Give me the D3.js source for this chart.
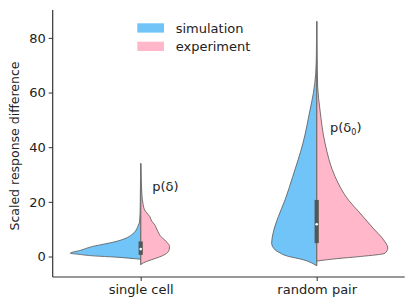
<!DOCTYPE html>
<html>
<head>
<meta charset="utf-8">
<script src="https://cdn.jsdelivr.net/npm/d3@7"></script>
<style>
  body { margin: 0; background: #fff; }
  svg text { font-family: "DejaVu Sans", sans-serif; fill: #222; }
</style>
</head>
<body>
<div id="chart"></div>
<script>
// categories and ticks
var categories = ["single cell", "random pair"];
var yTicks = [0, 20, 40, 60, 80];
var seriesNames = ["simulation", "experiment"];

// half-violin profiles: [value, relative density]
var simSingle = [[-1.0, 0], [-0.6, 0.17], [-0.25, 0.34], [0.25, 0.68], [0.8, 0.88], [1.2, 1.0], [2.3, 0.85],
  [3.7, 0.68], [4.6, 0.51], [5.5, 0.35], [6.7, 0.21], [7.9, 0.13], [9.5, 0.07], [11, 0.04], [13, 0.015],
  [18, 0.007], [25, 0.004], [34, 0]];
var expSingle = [[-3, 0], [-2.3, 0.04], [-1.8, 0.085], [-0.6, 0.22], [0.3, 0.31], [1.2, 0.37], [2.5, 0.405],
  [3.7, 0.41], [5, 0.38], [6.1, 0.34], [7.5, 0.28], [9.1, 0.245], [10.5, 0.22], [11.6, 0.2], [13, 0.155],
  [14.6, 0.13], [16, 0.085], [17, 0.057], [19, 0.035], [20.7, 0.024], [24, 0.014], [28, 0.007], [34, 0]];
var simPair = [[-3.4, 0], [-3, 0.024], [-1.2, 0.19], [0.25, 0.43], [1.3, 0.52], [2.4, 0.59], [4.9, 0.64],
  [8.5, 0.62], [14.6, 0.545], [20.7, 0.45], [29.3, 0.34], [41.5, 0.195], [53.6, 0.095], [59.7, 0.048],
  [67, 0.014], [75, 0.004], [86, 0]];
var expPair = [[-1.7, 0], [-1.6, 0.024], [-0.8, 0.28], [0, 0.62], [1.2, 0.97], [3.1, 1.01], [6.1, 0.95],
  [10.4, 0.8], [15.9, 0.615], [20.7, 0.45], [29.3, 0.26], [41.5, 0.118], [53.6, 0.047], [62, 0.014],
  [75, 0.004], [86, 0]];

// inner box stats: [min, q1, median, q3, max]
var boxSingle = [-3, 0.6, 2.7, 5.5, 34];
var boxPair = [-3.4, 4.9, 11.8, 20.7, 86];

var violins = [
  { cat: 0, sim: simSingle, exp: expSingle, box: boxSingle },
  { cat: 1, sim: simPair, exp: expPair, box: boxPair }
];

var W = 411, H = 302;
var colors = { simulation: "#70c4f8", experiment: "#ffb7c9" };

var svg = d3.select("#chart").append("svg")
  .attr("width", W).attr("height", H);

var x = d3.scaleLinear().domain([-0.5, 1.5]).range([52.7, 404.7]);
var y = d3.scaleLinear().domain([-7.5, 90.2]).range([277, 10]);
// density -> half width in category units
var wScale = d3.scaleLinear().domain([0, 1]).range([0, 0.4]);

function halfArea(center, side) {
  return d3.area()
    .curve(d3.curveMonotoneY)
    .y(function (d) { return y(d[0]); })
    .x0(function () { return x(center); })
    .x1(function (d) { return x(center + side * wScale(d[1])); });
}

violins.forEach(function (v) {
  svg.append("path")
    .datum(v.sim)
    .attr("d", halfArea(v.cat, -1))
    .attr("fill", colors.simulation)
    .attr("stroke", "#555")
    .attr("stroke-width", 0.8);
  svg.append("path")
    .datum(v.exp)
    .attr("d", halfArea(v.cat, 1))
    .attr("fill", colors.experiment)
    .attr("stroke", "#555")
    .attr("stroke-width", 0.8);

  // whisker line
  svg.append("line")
    .attr("x1", x(v.cat)).attr("x2", x(v.cat))
    .attr("y1", y(v.box[0])).attr("y2", y(v.box[4]))
    .attr("stroke", "#777")
    .attr("stroke-width", 1);
  // box
  svg.append("line")
    .attr("x1", x(v.cat)).attr("x2", x(v.cat))
    .attr("y1", y(v.box[1])).attr("y2", y(v.box[3]))
    .attr("stroke", "#555")
    .attr("stroke-width", 4.2);
  // median
  svg.append("circle")
    .attr("cx", x(v.cat)).attr("cy", y(v.box[2]))
    .attr("r", 1.3)
    .attr("fill", "#fff");
});

// axes
var yAxis = svg.append("g")
  .attr("transform", "translate(" + x(-0.5) + ",0)")
  .call(d3.axisLeft(y).tickValues(yTicks).tickSize(4).tickPadding(3));
var xAxis = svg.append("g")
  .attr("transform", "translate(0," + y(-7.5) + ")")
  .call(d3.axisBottom(x).tickValues([0, 1]).tickSize(4).tickPadding(4)
    .tickFormat(function (d) { return categories[d]; }));

[xAxis, yAxis].forEach(function (g) {
  g.select(".domain").attr("stroke", "#333").attr("stroke-width", 1.2);
  g.selectAll(".tick line").attr("stroke", "#333").attr("stroke-width", 1);
  g.selectAll(".tick text").style("font-size", "13px").attr("fill", "#222");
});
yAxis.select(".domain").attr("d", "M0," + y(-7.5) + "V" + y(90.2));
xAxis.select(".domain").attr("d", "M" + x(-0.5) + ",0H" + x(1.5));

// y label
svg.append("text")
  .attr("transform", "translate(19," + 146 + ") rotate(-90)")
  .attr("text-anchor", "middle")
  .style("font-size", "12.5px")
  .text("Scaled response difference");

// legend
var legend = svg.append("g").attr("transform", "translate(137.3,23.3)");
seriesNames.forEach(function (name, i) {
  legend.append("rect")
    .attr("x", 0).attr("y", i * 18.4)
    .attr("width", 26.7).attr("height", 9.3)
    .attr("fill", colors[name]);
  legend.append("text")
    .attr("x", 38.4).attr("y", i * 18.4 + 4.7)
    .attr("dy", "0.35em")
    .style("font-size", "13px")
    .text(name);
});

// annotations
svg.append("text")
  .attr("x", 152.3).attr("y", 190.5)
  .style("font-size", "13px")
  .text("p(δ)");
var t2 = svg.append("text")
  .attr("x", 330).attr("y", 132)
  .style("font-size", "13px");
t2.append("tspan").text("p(δ");
t2.append("tspan").attr("dy", 3).style("font-size", "8px").text("0");
t2.append("tspan").attr("dy", -3).text(")");
</script>
</body>
</html>
